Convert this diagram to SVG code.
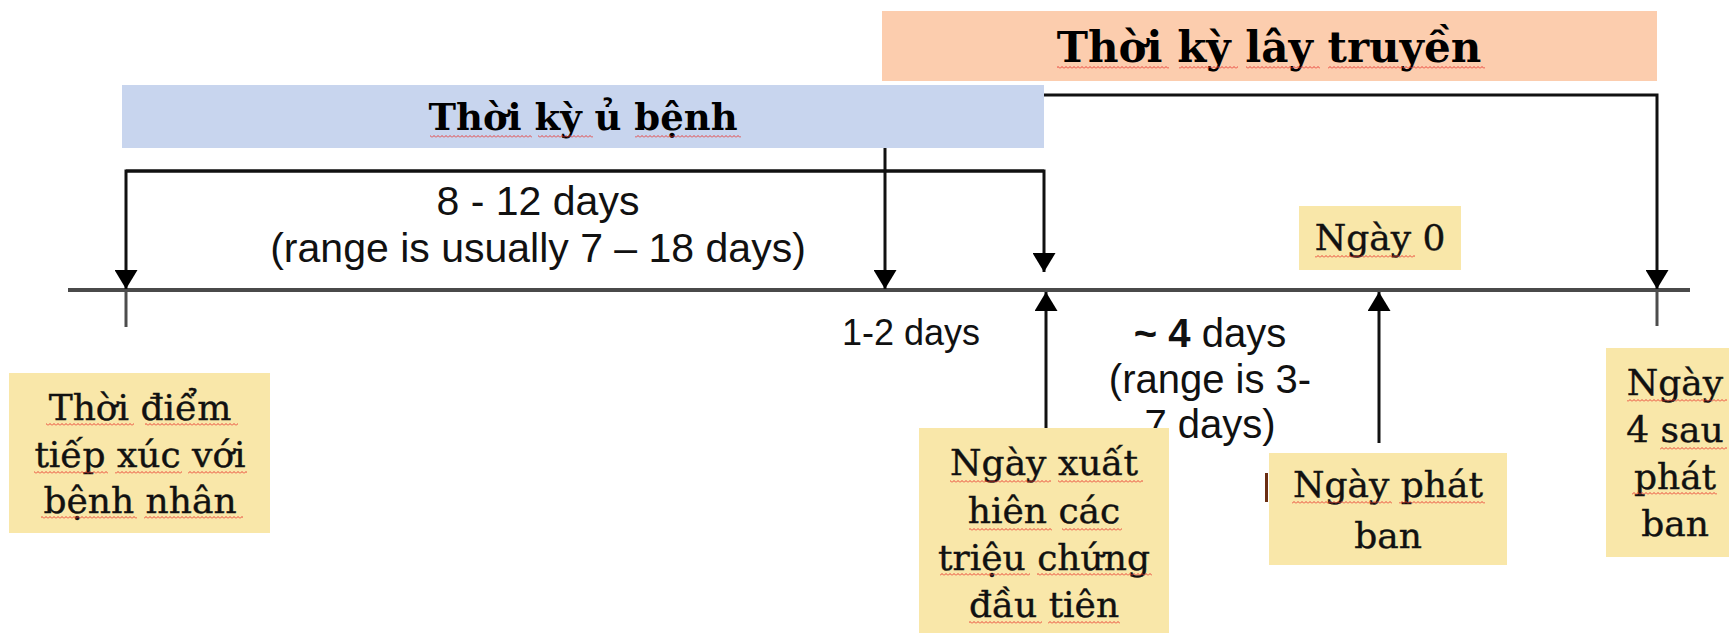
<svg xmlns="http://www.w3.org/2000/svg" width="1729" height="633" viewBox="0 0 1729 633">
<style>
.conn{fill:none;stroke:#111;stroke-width:3}
.tick{fill:none;stroke:#4d4d4d;stroke-width:3}
.axis{fill:none;stroke:#4a4a4a;stroke-width:4}
.sans{font-family:"Liberation Sans",Arial,sans-serif;fill:#111}
.serif{font-family:"DejaVu Serif","Liberation Serif",serif;fill:#111;stroke:#111;stroke-width:0.4}
.title{font-family:"DejaVu Serif","Liberation Serif",serif;font-weight:bold;fill:#000}
.yel{fill:#F9E7A9}
.sq{fill:url(#wave)}
</style>
<defs>
<marker id="arr" markerUnits="userSpaceOnUse" markerWidth="20" markerHeight="23" viewBox="0 0 20 23" refX="19" refY="11.5" orient="auto">
<path d="M0,0 L19,11.5 L0,23 z" fill="#000"/>
</marker>
<pattern id="wave" patternUnits="userSpaceOnUse" x="0" y="0" width="4" height="3">
<polyline points="0,2.5 2,0.5 4,2.5" fill="none" stroke="#e8302a" stroke-width="0.9"/>
</pattern>
</defs>
<rect width="1729" height="633" fill="#fff"/>
<g id="connectors">
<line class="axis" x1="68" y1="290" x2="1690" y2="290"/>
<line class="tick" x1="126" y1="290" x2="126" y2="327"/>
<line class="tick" x1="1657" y1="290" x2="1657" y2="326"/>
<path class="conn" d="M1044,171 H126 V289" marker-end="url(#arr)"/>
<path class="conn" d="M126,171 H1044 V272" marker-end="url(#arr)"/>
<path class="conn" d="M885,95 H1657 V289" marker-end="url(#arr)"/>
<path class="conn" d="M885,95 V289" marker-end="url(#arr)"/>
<path class="conn" d="M1046,428 V292" marker-end="url(#arr)"/>
<path class="conn" d="M1379,443 V292" marker-end="url(#arr)"/>
</g>
<g id="labels">
<text class="sans" font-size="41" text-anchor="middle" x="538" y="215">8 - 12 days</text>
<text class="sans" font-size="41" text-anchor="middle" x="538" y="262">(range is usually 7 – 18 days)</text>
<text class="sans" font-size="36" x="842" y="345">1-2 days</text>
<text class="sans" font-size="40" text-anchor="middle" x="1210" y="347"><tspan font-weight="bold">~ 4</tspan> days</text>
<text class="sans" font-size="40" text-anchor="middle" x="1210" y="393">(range is 3-</text>
<text class="sans" font-size="40" text-anchor="middle" x="1210" y="438">7 days)</text>
</g>
<g id="node-transmission">
<rect x="882" y="11" width="775" height="70" fill="#FCCDAE"/>
<text class="title" font-size="42" text-anchor="middle" x="1269" y="62">Thời kỳ lây truyền</text>
<rect class="sq" x="1057" y="66" width="112" height="3"/>
<rect class="sq" x="1179" y="66" width="59" height="3"/>
<rect class="sq" x="1246" y="66" width="74" height="3"/>
<rect class="sq" x="1328" y="66" width="157" height="3"/>
</g>
<g id="node-incubation">
<rect x="122" y="85" width="922" height="63" fill="#C8D5EE"/>
<text class="title" font-size="37" text-anchor="middle" x="583" y="130">Thời kỳ ủ bệnh</text>
<rect class="sq" x="430" y="135" width="102" height="3"/>
<rect class="sq" x="538" y="135" width="55" height="3"/>
<rect class="sq" x="635" y="135" width="106" height="3"/>
</g>
<g id="node-exposure">
<rect class="yel" x="9" y="373" width="261" height="160"/>
<text class="serif" font-size="36" text-anchor="middle"><tspan x="140" y="420">Thời điểm</tspan><tspan x="140" y="467">tiếp xúc với</tspan><tspan x="140" y="513">bệnh nhân</tspan></text>
<rect class="sq" x="46" y="423" width="88" height="3"/>
<rect class="sq" x="145" y="423" width="93" height="3"/>
<rect class="sq" x="34" y="471" width="74" height="3"/>
<rect class="sq" x="115" y="471" width="67" height="3"/>
<rect class="sq" x="188" y="471" width="59" height="3"/>
<rect class="sq" x="41" y="516" width="96" height="3"/>
<rect class="sq" x="144" y="516" width="99" height="3"/>
</g>
<g id="node-symptoms">
<rect class="yel" x="919" y="428" width="250" height="210"/>
<text class="serif" font-size="36" text-anchor="middle"><tspan x="1044" y="475">Ngày xuất</tspan><tspan x="1044" y="523">hiên các</tspan><tspan x="1044" y="570">triệu chứng</tspan><tspan x="1044" y="617">đầu tiên</tspan></text>
<rect class="sq" x="950" y="480" width="101" height="3"/>
<rect class="sq" x="1058" y="480" width="85" height="3"/>
<rect class="sq" x="969" y="528" width="83" height="3"/>
<rect class="sq" x="1062" y="528" width="60" height="3"/>
<rect class="sq" x="940" y="573" width="90" height="3"/>
<rect class="sq" x="1037" y="573" width="115" height="3"/>
<rect class="sq" x="969" y="621" width="73" height="3"/>
<rect class="sq" x="1048" y="621" width="72" height="3"/>
</g>
<g id="node-day0">
<rect class="yel" x="1299" y="206" width="162" height="64"/>
<text class="serif" font-size="36" text-anchor="middle" x="1380" y="250">Ngày 0</text>
<rect class="sq" x="1315" y="255" width="100" height="3"/>
</g>
<g id="node-rash">
<rect x="1265" y="473" width="3" height="29" fill="#6b2e12"/>
<rect class="yel" x="1269" y="453" width="238" height="112"/>
<text class="serif" font-size="36" text-anchor="middle"><tspan x="1388" y="497">Ngày phát</tspan><tspan x="1388" y="548">ban</tspan></text>
<rect class="sq" x="1292" y="501" width="100" height="3"/>
<rect class="sq" x="1399" y="501" width="86" height="3"/>
</g>
<g id="node-day4">
<rect class="yel" x="1606" y="348" width="140" height="209"/>
<text class="serif" font-size="36" text-anchor="middle"><tspan x="1675" y="395">Ngày</tspan><tspan x="1675" y="442">4 sau</tspan><tspan x="1675" y="489">phát</tspan><tspan x="1675" y="536">ban</tspan></text>
<rect class="sq" x="1627" y="399" width="100" height="3"/>
<rect class="sq" x="1660" y="447" width="67" height="3"/>
<rect class="sq" x="1632" y="492" width="85" height="3"/>
</g>
</svg>
